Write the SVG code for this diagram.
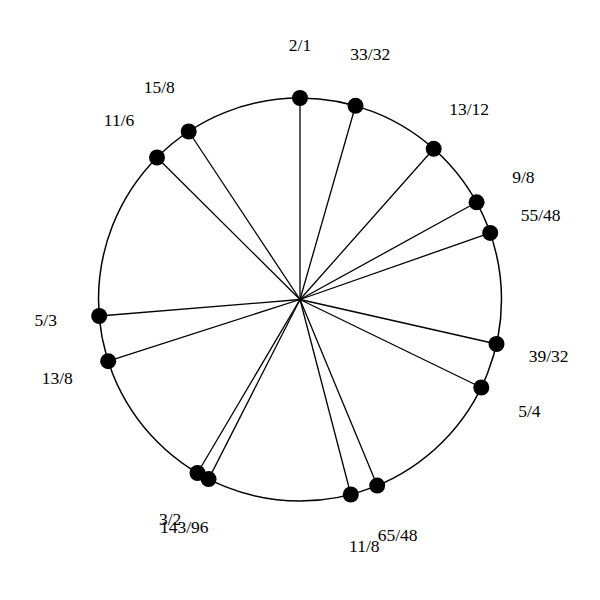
<svg xmlns="http://www.w3.org/2000/svg" width="600" height="600" viewBox="0 0 600 600">
<style>
.ring{fill:none;stroke:#000;stroke-width:1.5}
.spoke{stroke:#000;stroke-width:1.3}
.dot{fill:#000}
.lbl{font-family:"Liberation Serif","Times New Roman",serif;font-size:17.5px;fill:#000;text-anchor:middle}
</style>
<rect width="600" height="600" fill="#fff"/>
<circle class="ring" cx="300" cy="299.5" r="201.5"/>
<g id="connectors">
<line class="spoke" x1="300" y1="299.5" x2="300" y2="98"/>
<line class="spoke" x1="300" y1="299.5" x2="355.5" y2="105.8"/>
<line class="spoke" x1="300" y1="299.5" x2="433.7" y2="148.8"/>
<line class="spoke" x1="300" y1="299.5" x2="476.6" y2="202.3"/>
<line class="spoke" x1="300" y1="299.5" x2="490.2" y2="232.9"/>
<line class="spoke" x1="300" y1="299.5" x2="496.5" y2="344"/>
<line class="spoke" x1="300" y1="299.5" x2="481.3" y2="387.5"/>
<line class="spoke" x1="300" y1="299.5" x2="377.2" y2="485.6"/>
<line class="spoke" x1="300" y1="299.5" x2="350.8" y2="494.5"/>
<line class="spoke" x1="300" y1="299.5" x2="208.6" y2="479.1"/>
<line class="spoke" x1="300" y1="299.5" x2="197.5" y2="473"/>
<line class="spoke" x1="300" y1="299.5" x2="108.2" y2="361.2"/>
<line class="spoke" x1="300" y1="299.5" x2="99.2" y2="316"/>
<line class="spoke" x1="300" y1="299.5" x2="157" y2="157.5"/>
<line class="spoke" x1="300" y1="299.5" x2="188.7" y2="131.5"/>
</g>
<g id="n-2-1"><circle class="dot" cx="300" cy="98" r="8"/><text class="lbl" x="300" y="50.5">2/1</text></g>
<g id="n-33-32"><circle class="dot" cx="355.5" cy="105.8" r="8"/><text class="lbl" x="370.3" y="60.4">33/32</text></g>
<g id="n-13-12"><circle class="dot" cx="433.7" cy="148.8" r="8"/><text class="lbl" x="469.2" y="114.7">13/12</text></g>
<g id="n-9-8"><circle class="dot" cx="476.6" cy="202.3" r="8"/><text class="lbl" x="523.4" y="182.5">9/8</text></g>
<g id="n-55-48"><circle class="dot" cx="490.2" cy="232.9" r="8"/><text class="lbl" x="540.7" y="221.2">55/48</text></g>
<g id="n-39-32"><circle class="dot" cx="496.5" cy="344" r="8"/><text class="lbl" x="548.7" y="361.8">39/32</text></g>
<g id="n-5-4"><circle class="dot" cx="481.3" cy="387.5" r="8"/><text class="lbl" x="529.4" y="416.9">5/4</text></g>
<g id="n-65-48"><circle class="dot" cx="377.2" cy="485.6" r="8"/><text class="lbl" x="397.7" y="541">65/48</text></g>
<g id="n-11-8"><circle class="dot" cx="350.8" cy="494.5" r="8"/><text class="lbl" x="364.3" y="552.3">11/8</text></g>
<g id="n-143-96"><circle class="dot" cx="208.6" cy="479.1" r="8"/><text class="lbl" x="184.3" y="532.8">143/96</text></g>
<g id="n-3-2"><circle class="dot" cx="197.5" cy="473" r="8"/><text class="lbl" x="170.2" y="525">3/2</text></g>
<g id="n-13-8"><circle class="dot" cx="108.2" cy="361.2" r="8"/><text class="lbl" x="57.3" y="383.6">13/8</text></g>
<g id="n-5-3"><circle class="dot" cx="99.2" cy="316" r="8"/><text class="lbl" x="45.8" y="326.4">5/3</text></g>
<g id="n-11-6"><circle class="dot" cx="157" cy="157.5" r="8"/><text class="lbl" x="119.1" y="125.8">11/6</text></g>
<g id="n-15-8"><circle class="dot" cx="188.7" cy="131.5" r="8"/><text class="lbl" x="159.2" y="92.9">15/8</text></g>
</svg>
